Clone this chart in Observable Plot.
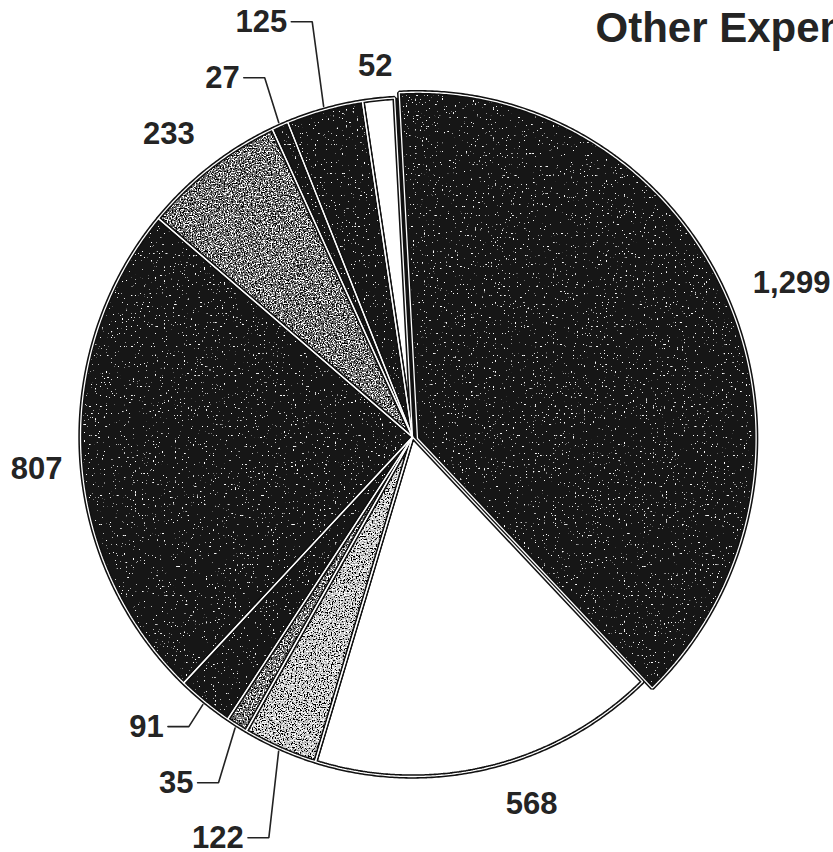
<!DOCTYPE html>
<html><head><meta charset="utf-8">
<script src="https://cdn.jsdelivr.net/npm/d3@7"></script>
<script src="https://cdn.jsdelivr.net/npm/@observablehq/plot@0.6"></script>
<style>
html,body{margin:0;padding:0;background:#fff;overflow:hidden;}
#chart{width:833px;height:852px;overflow:hidden;position:relative;}
</style></head><body><div id="chart"></div>
<script>
// ---- data ----
const title = "Other Expenses";
const values = [1299, 568, 122, 35, 91, 807, 233, 27, 125, 52];
const labels = ["1,299", "568", "122", "35", "91", "807", "233", "27", "125", "52"];
// ---- style / layout (kept apart from the values) ----
const textures = ["dark", "plain", "gray", "gray", "dark", "dark", "gray", "dark", "dark", "plain"];
const fills = ["#161616", "#ffffff", "#c8c8c8", "#6e6e6e", "#121212", "#141414", "#6a6a6a", "#121212", "#141414", "#ffffff"];
const labelAngleNudge = [1.8, -4.9, -3.4, -2.1, -0.4, -1.6, -2.0, 0.7, 1.5, 0];
const labelRadius = [1.229, 1.14, 1.257, 1.174, 1.087, 1.136, 1.155, 1.148, 1.26, 1.097];
const hasLeader = [false, false, true, true, true, false, false, true, true, false];
const startDeg = -3.1;
const explodeIndex = 0, explodeShift = [0.015, -0.0044], explodeScale = 1.02;

const rad = Math.PI / 180;
const arcs = d3.pie().sort(null).startAngle(startDeg * rad).endAngle(startDeg * rad + 2 * Math.PI)(values);

const pts = [];
arcs.forEach((a, i) => {
  const [ox, oy] = i === explodeIndex ? explodeShift : [0, 0];
  const s = i === explodeIndex ? explodeScale : 1;
  const n = Math.max(2, Math.ceil((a.endAngle - a.startAngle) / (0.4 * rad)));
  pts.push({slice: i, x: ox, y: oy});
  for (let k = 0; k <= n; k++) {
    const t = a.startAngle + (a.endAngle - a.startAngle) * k / n;
    pts.push({slice: i, x: ox + s * Math.sin(t), y: oy + s * Math.cos(t)});
  }
  pts.push({slice: i, x: ox, y: oy});
});
const disk = d3.range(0, 361, 1).map(d => ({x: Math.sin(d * rad), y: Math.cos(d * rad)}));

const plainLabels = [], leaderLabels = [], leaders = [];
arcs.forEach((a, i) => {
  const mid = (a.startAngle + a.endAngle) / 2;
  const ang = mid + labelAngleNudge[i] * rad;
  const px = labelRadius[i] * Math.sin(ang), py = labelRadius[i] * Math.cos(ang);
  if (hasLeader[i]) {
    leaderLabels.push({x: px, y: py, text: labels[i]});
    leaders.push({id: i, x: 1.01 * Math.sin(mid), y: 1.01 * Math.cos(mid)});
    leaders.push({id: i, x: px, y: py});
    leaders.push({id: i, x: px - 0.063, y: py});
  } else {
    plainLabels.push({x: px, y: py, text: labels[i]});
  }
});

const fillMarks = arcs.map((a, i) =>
  Plot.line(pts.filter(d => d.slice === i), {x: "x", y: "y", fill: fills[i]}));

const lab = {fontSize: 31, fontWeight: "bold", fill: "#242424"};
const chart = Plot.plot({
  width: 833, height: 852, margin: 0,
  x: {domain: [-1, 1], range: [80, 744], axis: null},
  y: {domain: [-1, 1], range: [776, 97], axis: null},
  style: {fontFamily: "'Liberation Sans', Arial, sans-serif", background: "white"},
  marks: [
    Plot.line(disk, {x: "x", y: "y", fill: "#111"}),
    ...fillMarks,
    Plot.line(pts, {x: "x", y: "y", z: "slice", stroke: "#111", strokeWidth: 4.4, strokeLinejoin: "miter"}),
    Plot.line(pts, {x: "x", y: "y", z: "slice", stroke: "white", strokeWidth: 1.3, strokeLinejoin: "miter"}),
    Plot.line(leaders, {x: "x", y: "y", z: "id", stroke: "#222", strokeWidth: 1.6, strokeLinejoin: "miter"}),
    Plot.text(plainLabels, {x: "x", y: "y", text: "text", textAnchor: "middle", ...lab}),
    Plot.text(leaderLabels, {x: "x", y: "y", text: "text", textAnchor: "end", dx: -25, ...lab}),
    Plot.text([title], {frameAnchor: "top-left", text: d => d, dx: 595, dy: 28, textAnchor: "start", lineAnchor: "middle", fontSize: 42, fontWeight: "bold", fill: "#242424"})
  ]
});

const ns = "http://www.w3.org/2000/svg";
const defs = document.createElementNS(ns, "defs");
defs.innerHTML = `
<filter id="speckle" filterUnits="userSpaceOnUse" x="0" y="0" width="833" height="852">
  <feTurbulence type="fractalNoise" baseFrequency="0.55" numOctaves="1" seed="2" result="n"/>
  <feColorMatrix in="n" type="matrix" values="0 0 0 0 1  0 0 0 0 1  0 0 0 0 1  22 0 0 0 -15.2" result="dots"/>
  <feComposite in="dots" in2="SourceGraphic" operator="in" result="d2"/>
  <feMerge><feMergeNode in="SourceGraphic"/><feMergeNode in="d2"/></feMerge>
</filter>
<filter id="stipple" filterUnits="userSpaceOnUse" x="0" y="0" width="833" height="852">
  <feTurbulence type="fractalNoise" baseFrequency="0.75" numOctaves="2" seed="5" result="n"/>
  <feColorMatrix in="n" type="matrix" values="0 0 0 0 1  0 0 0 0 1  0 0 0 0 1  14 0 0 0 -7.7" result="w"/>
  <feColorMatrix in="n" type="matrix" values="0 0 0 0 0  0 0 0 0 0  0 0 0 0 0  -14 0 0 0 6.3" result="b"/>
  <feMerge result="m"><feMergeNode in="SourceGraphic"/><feMergeNode in="b"/><feMergeNode in="w"/></feMerge>
  <feComposite in="m" in2="SourceGraphic" operator="in"/>
</filter>`;
chart.insertBefore(defs, chart.firstChild);
const lineGroups = chart.querySelectorAll('g[aria-label="line"]');
textures.forEach((t, i) => {
  const g = lineGroups[1 + i];
  if (!g) return;
  if (t === "dark") g.setAttribute("filter", "url(#speckle)");
  if (t === "gray") g.setAttribute("filter", "url(#stipple)");
});
document.getElementById("chart").append(chart);
</script></body></html>
